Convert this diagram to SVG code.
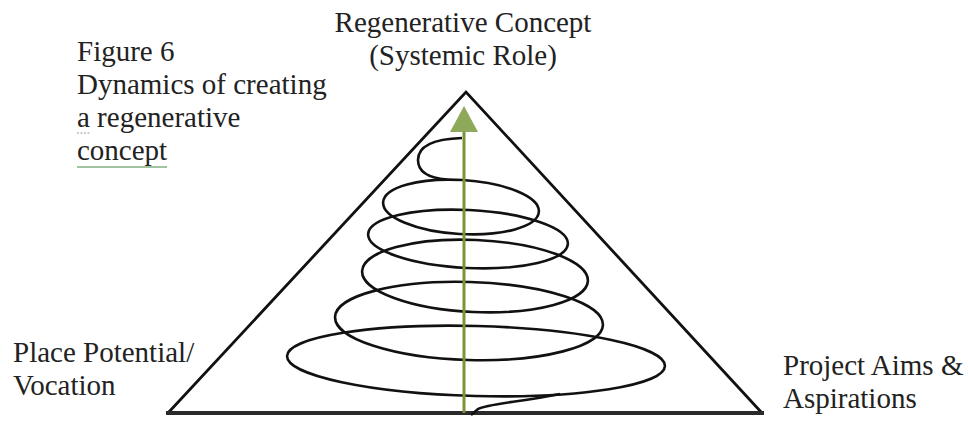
<svg xmlns="http://www.w3.org/2000/svg" width="968" height="421" viewBox="0 0 968 421">
<style>
text{font-family:'Liberation Serif','DejaVu Serif','Noto Serif',serif;font-size:29px;fill:#222}
.sp{fill:none;stroke:#111;stroke-width:2.6}
</style>
<rect width="968" height="421" fill="#fff"/>
<g id="caption" font-family="Liberation Serif, serif">
<text x="77" y="61">Figure 6</text>
<text x="77" y="94">Dynamics of creating</text>
<text x="77" y="127">a regenerative</text>
<text x="77" y="160">concept</text>
<line x1="77" y1="133" x2="91" y2="133" stroke="#9a9a9a" stroke-width="1.2" stroke-dasharray="2 1.5"/>
<line x1="77" y1="167" x2="167" y2="167" stroke="#7fb07f" stroke-width="1.5"/>
</g>
<g id="triangle">
<path d="M168,413 L466,92 L762,413" fill="none" stroke="#111" stroke-width="2.8" stroke-linejoin="miter"/>
<line x1="166" y1="413" x2="764" y2="413" stroke="#2a2a2a" stroke-width="4"/>
</g>
<g id="spiral">
<path class="sp" d="M462,138 C432,139 418,147 418,160 C418,172 428,178 447,179.5"/>
<ellipse class="sp" cx="461" cy="207" rx="78" ry="27" transform="rotate(3.5 461 207)"/>
<ellipse class="sp" cx="468" cy="239" rx="100" ry="29" transform="rotate(2.8 468 239)"/>
<ellipse class="sp" cx="475" cy="276" rx="113" ry="36" transform="rotate(2.5 475 276)"/>
<ellipse class="sp" cx="469" cy="321" rx="134" ry="39" transform="rotate(1.7 469 321)"/>
<ellipse class="sp" cx="476" cy="361" rx="189" ry="35" transform="rotate(1.5 476 361)"/>
<path class="sp" d="M560,394 C520,402 486,404 478,409 L471,415"/>
</g>
<g id="connectors">
<line x1="464" y1="413" x2="464" y2="128" stroke="#7a9436" stroke-width="3"/>
<polygon points="464,106 450,132 478,132" fill="#8fa95a"/>
</g>
<g id="top-label" font-family="Liberation Serif, serif">
<text x="463" y="32" text-anchor="middle">Regenerative Concept</text>
<text x="463" y="65" text-anchor="middle">(Systemic Role)</text>
</g>
<g id="left-label" font-family="Liberation Serif, serif">
<text x="13" y="362">Place Potential/</text>
<text x="13" y="395">Vocation</text>
</g>
<g id="right-label" font-family="Liberation Serif, serif">
<text x="783" y="375">Project Aims &amp;</text>
<text x="783" y="408">Aspirations</text>
</g>
</svg>
